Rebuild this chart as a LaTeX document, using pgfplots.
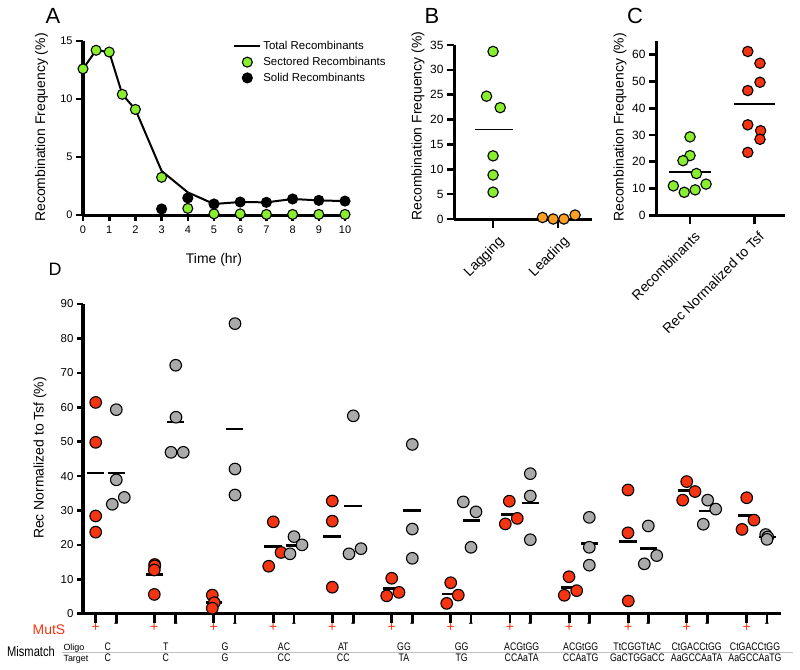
\documentclass[border=0pt]{standalone}
\usepackage{fontspec}
\setmainfont{Liberation Sans}
\newfontfamily\narrowfont{Liberation Sans}[FakeStretch=0.8]
\usepackage{pgfplots}
\pgfplotsset{compat=1.18}
\definecolor{cgreen}{RGB}{137,238,45}
\definecolor{corange}{RGB}{250,160,35}
\definecolor{cred}{RGB}{245,52,18}
\definecolor{cgray}{RGB}{170,170,170}
\newcommand{\fs}[1]{\fontsize{#1}{#1}\selectfont}
\pgfplotsset{
  panel/.style={
    scale only axis, axis lines*=left, clip=false,
    axis line style={line width=3bp, line join=miter},
    tick style={black, line width=2.6bp},
    tick align=outside,
    /pgf/number format/assume math mode=true,
    tick label style={font=\fs{11}},
    label style={font=\fs{14}},
    ylabel style={anchor=center},
    xlabel style={anchor=center},
    unbounded coords=jump,
  },
  dot/.style n args={2}{only marks, mark=*, mark size=#2,
    mark options={draw=black, fill=#1, line width=1.1bp}},
}
\newcommand{\grp}[3]{%
  \node[font=\narrowfont\fs{11}, anchor=base] at (#1bp,-650.3bp) {#2};
  \node[font=\narrowfont\fs{11}, anchor=base] at (#1bp,-661.5bp) {#3};}
\begin{document}
\begin{tikzpicture}
\useasboundingbox (0,0) rectangle (800bp,-670bp);

% ---------------- Panel A ----------------
\begin{axis}[panel, at={(83bp,-215bp)}, anchor=south west,
  width=262bp, height=174bp,
  xmin=0, xmax=10, ymin=0, ymax=15,
  xtick={0,1,...,10}, ytick={0,5,10,15},
  major tick length=7bp, xtick style={/pgfplots/major tick length=6bp},
  xlabel={Time (hr)}, xlabel style={at={(axis description cs:0.5,0)}, yshift=-45bp},
  ylabel={Recombination Frequency (\%)},
  ylabel style={at={(axis description cs:-0.158,0.503)}},
  legend style={draw=none, fill=none, at={(0.573,1.01)}, anchor=north west,
    font=\fs{11.5}, row sep=2bp, inner sep=0pt},
  legend cell align=left,
  legend image code/.code={\draw[mark repeat=2,mark phase=2,#1]
     plot coordinates {(0bp,0bp) (13bp,0bp) (26bp,0bp)};},
]
\addplot[black, line width=2bp, mark=none] coordinates {
 (0,12.6) (0.5,14.2) (1,14.05) (1.5,10.4) (2,9.1) (3,3.8) (4,1.95)
 (5,0.95) (6,1.12) (7,1.09) (8,1.38) (9,1.26) (10,1.2)};
\addlegendentry{Total Recombinants}
\addplot[dot={cgreen}{5bp}] coordinates {
 (0,12.6) (0.5,14.2) (1,14.05) (1.5,10.4) (2,9.1) (3,3.25) (4,0.57)
 (5,0.1) (6,0.1) (7,0.05) (8,0.05) (9,0.05) (10,0.05)};
\addlegendentry{Sectored Recombinants}
\addplot[dot={black}{5bp}] coordinates {
 (3,0.52) (4,1.47) (5,0.95) (6,1.12) (7,1.09) (8,1.38) (9,1.26) (10,1.2)};
\addlegendentry{Solid Recombinants}
\end{axis}

% ---------------- Panel B ----------------
\begin{axis}[panel, at={(454bp,-219bp)}, anchor=south west,
  width=138bp, height=174bp,
  xmin=-0.6, xmax=1.52, ymin=0, ymax=35,
  ytick={0,5,...,35}, xtick={0,1}, xticklabels={Lagging,Leading},
  major tick length=7bp, xtick style={/pgfplots/major tick length=9bp},
  tick label style={font=\fs{12}},
  xticklabel style={rotate=45, anchor=north east, font=\fs{14}, yshift=-6bp},
  ylabel={Recombination Frequency (\%)},
  ylabel style={at={(axis description cs:-0.26,0.534)}},
]
\addplot[dot={cgreen}{5.2bp}] coordinates {
 (0,33.7) (-0.1,24.7) (0.11,22.4) (0,12.7) (0,8.85) (0,5.4)};
\addplot[dot={corange}{5.2bp}] coordinates {
 (0.76,0.3) (0.923,0) (1.088,0) (1.26,0.8)};
\addplot[black, line width=1.8bp, mark=none] coordinates {(-0.27,18) (0.31,18)};
\end{axis}

% ---------------- Panel C ----------------
\begin{axis}[panel, at={(656bp,-215.3bp)}, anchor=south west,
  width=129bp, height=174bp,
  xmin=-0.53, xmax=1.48, ymin=0, ymax=65,
  ytick={0,10,...,60}, xtick={0,1}, xticklabels={Recombinants,Rec Normalized to Tsf},
  major tick length=7bp, xtick style={/pgfplots/major tick length=9bp},
  tick label style={font=\fs{12}},
  xticklabel style={rotate=45, anchor=north east, font=\fs{14}, yshift=-5bp},
  ylabel={Recombination Frequency (\%)},
  ylabel style={at={(axis description cs:-0.279,0.505)}},
]
\addplot[dot={cgreen}{5.2bp}] coordinates {
 (0,29.3) (0,22.3) (-0.11,20.4) (0.10,15.6) (0.25,11.65) (-0.26,11.0) (0.08,9.5) (-0.09,8.6)};
\addplot[dot={cred}{5.2bp}] coordinates {
 (0.9,61.2) (1.09,56.8) (1.09,49.7) (0.9,46.6) (0.9,33.8) (1.1,31.6) (1.09,28.4) (0.9,23.5)};
\addplot[black, line width=1.8bp, mark=none] coordinates {
 (-0.33,16.2) (0.33,16.2) (0.5,nan) (0.68,41.5) (1.32,41.5)};
\end{axis}

% ---------------- Panel D ----------------
\begin{axis}[panel, at={(83bp,-613.7bp)}, anchor=south west,
  width=698bp, height=309.7bp,
  xmin=-12.7, xmax=685.3, ymin=0, ymax=90,
  ytick={0,10,...,90},
  xtick={0,20.6,58.6,80,118,139.3,177.6,198.3,236.6,257.6,296,316.6,355,375.3,414.3,434.6,473.6,493.6,532.6,552.6,591,611.6,651,671.3},
  xticklabels={{\textcolor{cred}{+}},{-},{\textcolor{cred}{+}},{-},{\textcolor{cred}{+}},{-},{\textcolor{cred}{+}},{-},{\textcolor{cred}{+}},{-},{\textcolor{cred}{+}},{-},{\textcolor{cred}{+}},{-},{\textcolor{cred}{+}},{-},{\textcolor{cred}{+}},{-},{\textcolor{cred}{+}},{-},{\textcolor{cred}{+}},{-},{\textcolor{cred}{+}},{-}},
  major tick length=6bp, xtick style={/pgfplots/major tick length=9bp},
  tick label style={font=\fs{11.5}}, xticklabel style={font=\fs{14}},
  ylabel={Rec Normalized to Tsf (\%)},
  ylabel style={at={(axis description cs:-0.0616,0.503)}},
]
\addplot[dot={cred}{5.8bp}] coordinates {
 (0,61.4) (0,49.8) (0,28.4) (0,23.7)
 (59,14.3) (59,13.9) (58.6,12.7) (58.6,5.6)
 (116.6,5.4) (118.6,3.2) (116.6,1.6)
 (177.6,26.7) (185.3,17.8) (173,13.8)
 (236.6,32.75) (236.6,26.9) (236.6,7.7)
 (296,10.3) (291,5.2) (303.3,6.2)
 (355,9.0) (362.6,5.4) (351,3.0)
 (413.6,32.7) (421.6,27.7) (409.6,26.1)
 (473.3,10.75) (481,6.7) (468.6,5.35)
 (532.3,35.95) (532.3,23.5) (532.6,3.7)
 (591,38.4) (599.3,35.5) (587,33.0)
 (651,33.7) (658.3,27.2) (646.3,24.5)};
\addplot[dot={cgray}{5.8bp}] coordinates {
 (20.6,59.3) (20.6,38.9) (16.6,31.8) (28.6,33.8)
 (80,72.2) (80.3,57.1) (75.3,46.9) (87.6,46.9)
 (139.3,84.3) (139.3,42.05) (139.3,34.5)
 (194.3,17.4) (198.3,22.4) (206.3,20.0)
 (257.6,57.5) (253.3,17.4) (265.3,18.9)
 (316.6,49.2) (316.6,24.6) (316.6,16.1)
 (367.6,32.5) (380.3,29.6) (375.3,19.3)
 (434.6,40.7) (434.6,34.2) (434.6,21.5)
 (493.6,28.0) (493.6,19.3) (493.6,14.1)
 (552.6,25.5) (561,16.9) (548.6,14.5)
 (612,33.0) (620,30.4) (607.6,26.0)
 (670,23.0) (672,22.3) (671.3,21.6)};
\addplot[black, line width=2.8bp, mark=none] coordinates {
 (-9,40.9) (8.3,40.9) (10,nan) (12,40.9) (29.6,40.9) (30,nan)
 (50,11.5) (67.6,11.5) (68,nan) (71,55.7) (88.6,55.7) (89,nan)
 (110,3.3) (126,3.3) (127,nan) (130.3,53.7) (147.6,53.7) (148,nan)
 (168.6,19.5) (186,19.5) (187,nan) (190,19.8) (207.6,19.8) (208,nan)
 (227.6,22.5) (245,22.5) (246,nan) (248.6,31.3) (266.3,31.3) (267,nan)
 (287.6,7.4) (304.3,7.4) (305,nan) (307.6,29.9) (325.3,29.9) (326,nan)
 (346,5.7) (361.6,5.7) (362,nan) (367,27.2) (384.3,27.2) (385,nan)
 (405.3,28.9) (422.6,28.9) (423,nan) (426,32.2) (443.6,32.2) (444,nan)
 (465.3,7.7) (482.6,7.7) (483,nan) (485.3,20.5) (502.6,20.5) (503,nan)
 (523.6,21.1) (541,21.1) (542,nan) (544.3,19.0) (561.6,19.0) (562,nan)
 (582.6,35.7) (600.3,35.7) (601,nan) (603.3,29.85) (621,29.85) (622,nan)
 (642,28.6) (659.3,28.6) (660,nan) (663,22.3) (680.3,22.3)};
\end{axis}

% ---------------- labels ----------------
\node[font=\fs{22}] at (53bp,-16bp) {A};
\node[font=\fs{22}] at (432bp,-16bp) {B};
\node[font=\fs{22}] at (635bp,-16bp) {C};
\node[font=\fs{18}] at (55bp,-269bp) {D};

\node[font=\fs{14}, text=cred, anchor=base] at (49bp,-634bp) {MutS};
\node[font=\narrowfont\fs{14}, anchor=base] at (31bp,-656bp) {Mismatch};
\node[font=\fs{9}, anchor=base west] at (60bp,-650bp) {Oligo};
\node[font=\fs{9}, anchor=base west] at (60bp,-661bp) {Target};
\draw[black!25, line width=0.6bp] (62bp,-652.6bp) -- (793bp,-652.6bp);
\grp{107.7}{C}{C}
\grp{165.7}{T}{C}
\grp{225}{G}{G}
\grp{284}{AC}{CC}
\grp{343.3}{AT}{CC}
\grp{404}{GG}{TA}
\grp{461.7}{GG}{TG}
\grp{521.7}{ACGtGG}{CCAaTA}
\grp{580.7}{ACGtGG}{CCAaTG}
\grp{637.3}{TtCGGTtAC}{GaCTGGaCC}
\grp{696.7}{CtGACCtGG}{AaGCCAaTA}
\grp{755}{CtGACCtGG}{AaGCCAaTG}
\end{tikzpicture}
\end{document}
